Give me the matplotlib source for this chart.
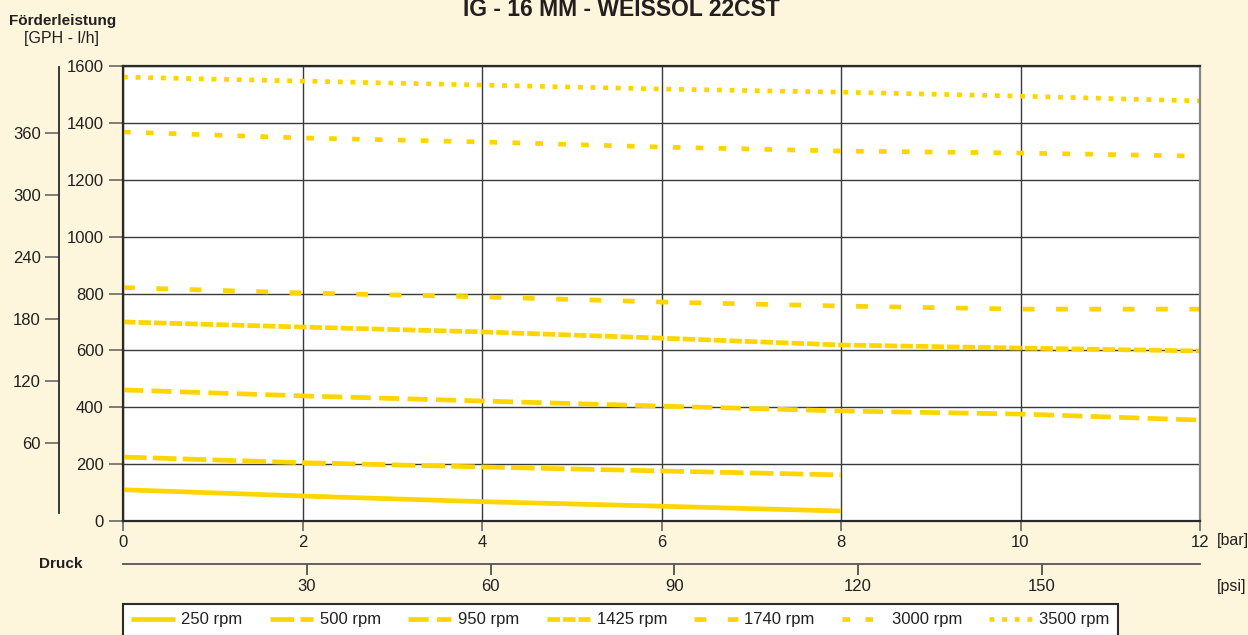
import matplotlib
matplotlib.use("Agg")
import matplotlib.pyplot as plt
import numpy as np

# Daten (Förderleistung in l/h über Druck in bar)
druck_bar = [0, 2, 4, 6, 8, 10, 12]
druck_kurz = [0, 2, 4, 6, 8]
rpm_250 = [110, 88, 68, 52, 35]
rpm_500 = [225, 205, 190, 176, 162]
rpm_950 = [461, 440, 422, 404, 387, 376, 355]
rpm_1425 = [700, 682, 665, 643, 619, 608, 598]
rpm_1740 = [821, 802, 788, 770, 756, 745, 745]
rpm_3000 = [1368, 1347, 1333, 1315, 1301, 1294, 1283]
rpm_3500 = [1561, 1547, 1533, 1519, 1508, 1494, 1477]
labels = ["250 rpm", "500 rpm", "950 rpm", "1425 rpm", "1740 rpm", "3000 rpm", "3500 rpm"]

y_ticks = [0, 200, 400, 600, 800, 1000, 1200, 1400, 1600]
gph_ticks = [60, 120, 180, 240, 300, 360]
psi_ticks = [30, 60, 90, 120, 150]

plt.rcParams['font.family'] = ['Liberation Sans', 'DejaVu Sans']
plt.rcParams['lines.scale_dashes'] = False
fs = 12

W, H = 1248, 635
bg = '#fdf6dc'
gelb = '#ffd500'
txt = '#231f20'

fig = plt.figure(figsize=(W / 100, H / 100), dpi=100, facecolor=bg)
ax = fig.add_axes([123 / W, (H - 521) / H, 1077 / W, 455 / H])
ax.set_facecolor('white')

lw = 3.4
ax.plot(druck_kurz, rpm_250, color=gelb, lw=lw, solid_capstyle='butt', label=labels[0])
ax.plot(druck_kurz, rpm_500, color=gelb, lw=lw, dashes=(17, 4.5), label=labels[1])
ax.plot(druck_bar, rpm_950, color=gelb, lw=lw, dashes=(14.5, 6), label=labels[2])
ax.plot(druck_bar, rpm_1425, color=gelb, lw=lw, dashes=(9, 2.2), label=labels[3])
ax.plot(druck_bar, rpm_1740, color=gelb, lw=lw, dashes=(8.5, 15.5), label=labels[4])
ax.plot(druck_bar, rpm_3000, color=gelb, lw=lw, dashes=(5.5, 11), label=labels[5])
ax.plot(druck_bar, rpm_3500, color=gelb, lw=lw, dashes=(3.5, 5.6), label=labels[6])

ax.set_xlim(0, 12)
ax.set_ylim(0, 1600)
ax.set_xticks(range(0, 13, 2))
ax.set_yticks(y_ticks)
ax.grid(True, color='#3a3a3a', lw=1.0)
ax.set_axisbelow(True)
ax.tick_params(axis='y', direction='out', length=10, width=1.2, color='#666666',
               labelsize=fs, labelcolor=txt, pad=4)
ax.tick_params(axis='x', direction='out', length=7, width=1.2, color='#666666',
               labelsize=fs, labelcolor=txt, pad=3)
for s in ['left', 'bottom', 'top']:
    ax.spines[s].set_color('#2a2a2a')
    ax.spines[s].set_linewidth(1.6)
ax.spines['right'].set_color('#888888')
ax.spines['right'].set_linewidth(1.6)

# GPH-Achse links
gph_f = 3.634
gph_0 = 56.3
sec_y = ax.secondary_yaxis((59 - 123) / 1077,
                           functions=(lambda v: (v - gph_0) / gph_f,
                                      lambda g: g * gph_f + gph_0))
sec_y.set_yticks(gph_ticks)
sec_y.tick_params(direction='out', length=10, width=1.2, color='#666666',
                  labelsize=fs, labelcolor=txt, pad=3)
sec_y.spines['left'].set_color('#2a2a2a')
sec_y.spines['left'].set_linewidth(1.3)
sec_y.spines['left'].set_bounds(-8, 424)

# psi-Achse unten
psi_f = 14.65
sec_x = ax.secondary_xaxis((521 - 564) / 455,
                           functions=(lambda b: b * psi_f, lambda p: p / psi_f))
sec_x.set_xticks(psi_ticks)
sec_x.tick_params(direction='out', length=8, width=1.2, color='#444444',
                  labelsize=fs, labelcolor=txt, pad=3)
sec_x.spines['bottom'].set_color('#555555')
sec_x.spines['bottom'].set_linewidth(1.3)

fig.text(621 / W, (H - 16) / H, 'IG - 16 MM - WEISSOL 22CST', ha='center', va='baseline',
         fontsize=16.5, fontweight='bold', color=txt)
fig.text(9 / W, (H - 25) / H, 'Förderleistung', ha='left', va='baseline',
         fontsize=11, fontweight='bold', color=txt)
fig.text(24 / W, (H - 43) / H, '[GPH - l/h]', ha='left', va='baseline',
         fontsize=11.5, color=txt)
fig.text(39 / W, (H - 568) / H, 'Druck', ha='left', va='baseline',
         fontsize=11, fontweight='bold', color=txt)
fig.text(1217 / W, (H - 545) / H, '[bar]', ha='left', va='baseline',
         fontsize=11.5, color=txt)
fig.text(1217 / W, (H - 591) / H, '[psi]', ha='left', va='baseline',
         fontsize=11.5, color=txt)

leg = fig.legend(loc='upper left', bbox_to_anchor=(123 / W, (H - 650) / H, 995 / W, 46 / H),
                 mode='expand', ncol=7, frameon=True, fancybox=False, borderaxespad=0,
                 handlelength=2.6, handletextpad=0.4, fontsize=fs, borderpad=0.5,
                 columnspacing=1.0, labelcolor=txt)
leg.get_frame().set_edgecolor('#2a2a2a')
leg.get_frame().set_linewidth(1.5)
leg.get_frame().set_facecolor('white')
leg.get_frame().set_alpha(1)

fig.savefig('out.png', dpi=100, facecolor=bg)
